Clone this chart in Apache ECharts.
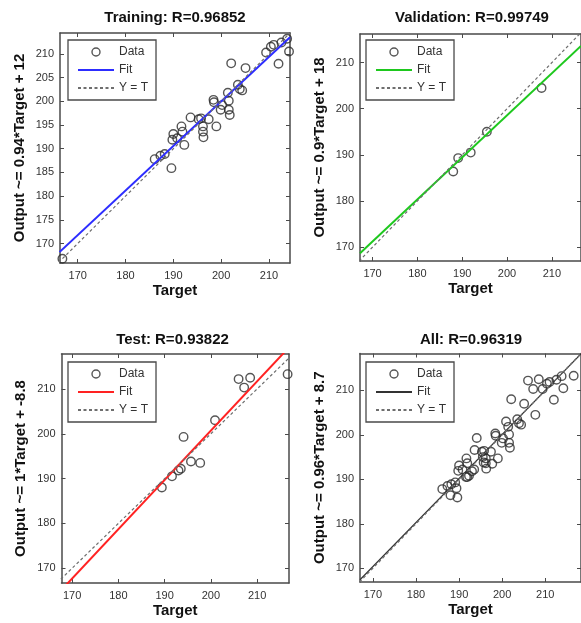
<!DOCTYPE html>
<html><head><meta charset="utf-8">
<script src="https://cdn.jsdelivr.net/npm/echarts@6/dist/echarts.min.js"></script>
<style>html,body{margin:0;padding:0;background:#fff}#c{width:581px;height:623px}</style>
</head><body><div id="c"></div>
<script>
// ---------- data ----------
const trainingData = [[166.8,166.8],[186.1,187.8],[187.3,188.5],[188.2,188.9],[189.6,185.9],[189.8,191.9],[190.0,193.1],[190.8,192.2],[191.7,194.7],[191.9,193.6],[192.3,190.8],[193.6,196.6],[195.3,196.2],[195.8,196.4],[196.2,194.7],[196.2,193.6],[196.3,192.4],[197.4,196.2],[199.0,194.7],[198.4,200.3],[198.5,199.8],[199.9,198.2],[200.2,199.2],[201.4,201.8],[201.6,200.1],[201.6,198.2],[201.8,197.1],[202.1,208.0],[203.5,203.5],[203.9,202.6],[204.4,202.3],[205.1,207.0],[209.4,210.3],[210.4,211.5],[211.0,211.9],[212.0,207.9],[212.6,212.4],[213.8,213.2],[214.2,210.5]];
const validationData = [[188.0,186.4],[189.1,189.3],[191.9,190.5],[195.5,195.0],[207.7,204.5]];
const testData = [[189.4,188.0],[191.6,190.5],[193.0,191.8],[193.5,192.2],[194.1,199.3],[195.7,193.8],[197.7,193.5],[200.9,203.0],[206.0,212.2],[207.2,210.3],[208.5,212.5],[216.6,213.3]];
const allData = trainingData.concat(validationData, testData);

const trainingFit = [[166.2,168.2],[214.4,213.5]];
const validationFit = [[167.2,168.7],[216.5,213.6]];
const testFit = [[168.0,165.5],[216.0,218.3]];
const allFit = [[167.0,167.4],[218.3,218.2]];

const trainingYT = [[166.0,166.0],[214.4,214.4]];
const validationYT = [[167.0,167.0],[216.5,216.5]];
const testYT = [[166.7,166.7],[217.8,217.8]];
const allYT = [[166.9,166.9],[218.3,218.3]];

const titles = ['Training: R=0.96852','Validation: R=0.99749','Test: R=0.93822','All: R=0.96319'];
const yNames = ['Output ~= 0.94*Target + 12','Output ~= 0.9*Target + 18','Output ~= 1*Target + -8.8','Output ~= 0.96*Target + 8.7'];
const xName = 'Target';
const legendNames = ['Data','Fit','Y = T'];
const xTicks = [170,180,190,200,210];
const yTicksTraining = [170,175,180,185,190,195,200,205,210];
const yTicksOther = [170,180,190,200,210];

const scatterSets = [trainingData, validationData, testData, allData];
const fitSets = [trainingFit, validationFit, testFit, allFit];
const ytSets = [trainingYT, validationYT, testYT, allYT];
const yTickSets = [yTicksTraining, yTicksOther, yTicksOther, yTicksOther];

// ---------- layout / style ----------
const layout = [
  {box:{left:60,top:33,width:230,height:230}, xr:[166.3,214.4], yr:[165.9,214.4], title:{x:175,y:10}, legend:{left:68,top:40}, color:'#2d2dff', fitW:2},
  {box:{left:360,top:34,width:232,height:227}, xr:[167.2,216.5], yr:[167.0,216.2], title:{x:472,y:10}, legend:{left:366,top:40}, color:'#1ec81e', fitW:2},
  {box:{left:61.5,top:354,width:227.5,height:229}, xr:[167.7,216.9], yr:[166.7,217.8], title:{x:172.5,y:332}, legend:{left:68,top:362}, color:'#ff2222', fitW:2},
  {box:{left:360,top:353.5,width:236,height:228.5}, xr:[167.0,218.3], yr:[166.9,218.3], title:{x:471,y:332}, legend:{left:366,top:362}, color:'#333333', fitW:1.2}
];
const FONT = 'Liberation Sans, Arial, Helvetica, sans-serif';
const boxColor = '#4a4a4a';

const grid = [], xAxis = [], yAxis = [], series = [], title = [], legend = [];
layout.forEach((L, i) => {
  grid.push(Object.assign({containLabel:false, show:false}, L.box));
  title.push({text:titles[i], left:L.title.x, top:L.title.y, textAlign:'center', padding:0,
    textStyle:{fontFamily:FONT, fontWeight:'bold', fontSize:15, color:'#111'}});
  const axLine = {show:true, onZero:false, lineStyle:{color:boxColor, width:1.5}};
  const tick = (vals) => ({show:true, inside:true, length:4, customValues:vals, lineStyle:{color:boxColor, width:1}});
  xAxis.push({type:'value', gridIndex:i, position:'bottom', min:L.xr[0], max:L.xr[1],
    axisLine:axLine, axisTick:tick(xTicks), splitLine:{show:false},
    axisLabel:{show:true, customValues:xTicks, margin:7, fontFamily:FONT, fontSize:11, color:'#333'},
    name:xName, nameLocation:'middle', nameGap:20,
    nameTextStyle:{fontFamily:FONT, fontWeight:'bold', fontSize:15, color:'#111'}});
  xAxis.push({type:'value', gridIndex:i, position:'top', min:L.xr[0], max:L.xr[1],
    axisLine:axLine, axisTick:tick(xTicks), splitLine:{show:false}, axisLabel:{show:false}});
  yAxis.push({type:'value', gridIndex:i, position:'left', min:L.yr[0], max:L.yr[1],
    axisLine:axLine, axisTick:tick(yTickSets[i]), splitLine:{show:false},
    axisLabel:{show:true, customValues:yTickSets[i], margin:6, fontFamily:FONT, fontSize:11, color:'#333'},
    name:yNames[i], nameLocation:'middle', nameGap:33, nameRotate:90,
    nameTextStyle:{fontFamily:FONT, fontWeight:'bold', fontSize:15, color:'#111'}});
  yAxis.push({type:'value', gridIndex:i, position:'right', min:L.yr[0], max:L.yr[1],
    axisLine:axLine, axisTick:tick(yTickSets[i]), splitLine:{show:false}, axisLabel:{show:false}});

  const sfx = '#' + i;
  series.push({type:'scatter', name:legendNames[0]+sfx, xAxisIndex:2*i, yAxisIndex:2*i, data:scatterSets[i],
    symbol:'circle', symbolSize:8.5, itemStyle:{color:'rgba(0,0,0,0)', borderColor:'#2a2a2a', borderWidth:1.4}, z:2});
  series.push({type:'line', name:legendNames[1]+sfx, xAxisIndex:2*i, yAxisIndex:2*i, data:fitSets[i],
    symbol:'none', showSymbol:false, lineStyle:{color:L.color, width:L.fitW}, itemStyle:{color:L.color}, z:3});
  series.push({type:'line', name:legendNames[2]+sfx, xAxisIndex:2*i, yAxisIndex:2*i, data:ytSets[i],
    symbol:'none', showSymbol:false, lineStyle:{color:'#6e6e6e', width:1.2, type:[3,2.5]}, itemStyle:{color:'#6e6e6e'}, z:4});

  legend.push({orient:'vertical', left:L.legend.left, top:L.legend.top, selectedMode:false,
    itemWidth:36, itemHeight:8, itemGap:6, padding:[6,8,6,9],
    backgroundColor:'#fff', borderColor:boxColor, borderWidth:1.3,
    formatter:(n) => n.split('#')[0],
    textStyle:{fontFamily:FONT, fontSize:12, color:'#333'},
    data:[
      {name:legendNames[0]+sfx, icon:'circle', itemStyle:{color:'rgba(0,0,0,0)', borderColor:'#2a2a2a', borderWidth:1.4}},
      {name:legendNames[1]+sfx, itemStyle:{opacity:0}},
      {name:legendNames[2]+sfx, itemStyle:{opacity:0}}
    ]});
});

const chart = echarts.init(document.getElementById('c'), null, {renderer:'canvas'});
chart.setOption({backgroundColor:'#fff', animation:false, title, legend, grid, xAxis, yAxis, series});
</script></body></html>
